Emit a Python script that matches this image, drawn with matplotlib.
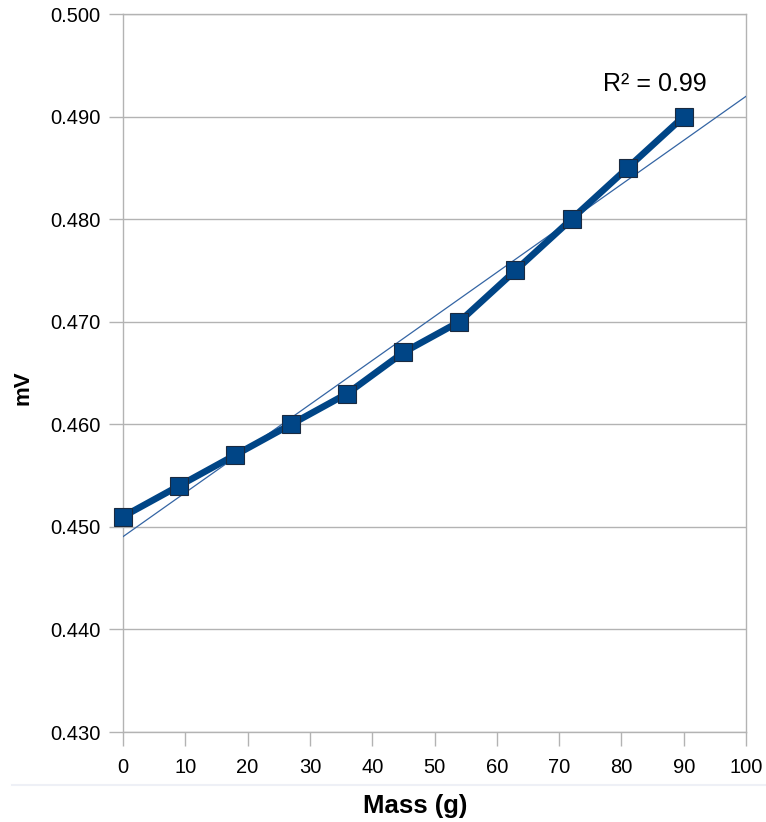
import numpy as np
import matplotlib
matplotlib.use('Agg')
import matplotlib.pyplot as plt
from matplotlib.lines import Line2D

plt.rcParams['font.family'] = ['Liberation Sans', 'DejaVu Sans']

mass = [0, 9, 18, 27, 36, 45, 54, 63, 72, 81, 90]
mv = [0.451, 0.454, 0.457, 0.460, 0.463, 0.467, 0.470, 0.475, 0.480, 0.485, 0.490]
x_ticks = [0, 10, 20, 30, 40, 50, 60, 70, 80, 90, 100]
y_ticks = [0.430, 0.440, 0.450, 0.460, 0.470, 0.480, 0.490, 0.500]

W, H = 766, 822
fig = plt.figure(figsize=(W / 100, H / 100), dpi=100)
ax = fig.add_axes([123 / W, 1 - 732 / H, 623 / W, 718 / H])

# linear trendline over full x range
slope, intercept = np.polyfit(mass, mv, 1)
xt = np.array([0, 100])
ax.plot(xt, slope * xt + intercept, color='#3465a4', lw=0.9, zorder=3)

ax.plot(mass, mv, color='#004586', lw=4.8, marker='s', markersize=13,
        markeredgecolor='#1a2a40', markeredgewidth=0.8, zorder=4, clip_on=False)

ax.set_xlim(0, 100)
ax.set_ylim(0.430, 0.500)
ax.set_xticks(x_ticks)
ax.set_yticks(y_ticks)
ax.set_yticklabels([f'{v:.3f}' for v in y_ticks])
ax.grid(axis='y', color='#b3b3b3', lw=1)
ax.set_axisbelow(True)
for s in ax.spines.values():
    s.set_color('#b3b3b3')
    s.set_linewidth(1)
ax.tick_params(axis='both', colors='#b3b3b3', labelcolor='black', labelsize=14.5,
               length=10, width=1)
ax.tick_params(axis='x', pad=9)
ax.tick_params(axis='y', pad=6)

# axis titles placed like the original (slightly off-centre)
fig.text(415 / W, 1 - 806 / H, 'Mass (g)', fontsize=18.5, fontweight='bold',
         ha='center', va='center')
fig.text(23 / W, 1 - 388 / H, 'mV', fontsize=16, fontweight='bold',
         ha='center', va='center', rotation=90)

ax.text(85.4, 0.4932, 'R² = 0.99', fontsize=18, ha='center', va='center')

fig.add_artist(Line2D([12 / W, 1], [1 - 785 / H] * 2, color='#eef0f6', lw=1.5))

fig.savefig('out.png', dpi=100)
